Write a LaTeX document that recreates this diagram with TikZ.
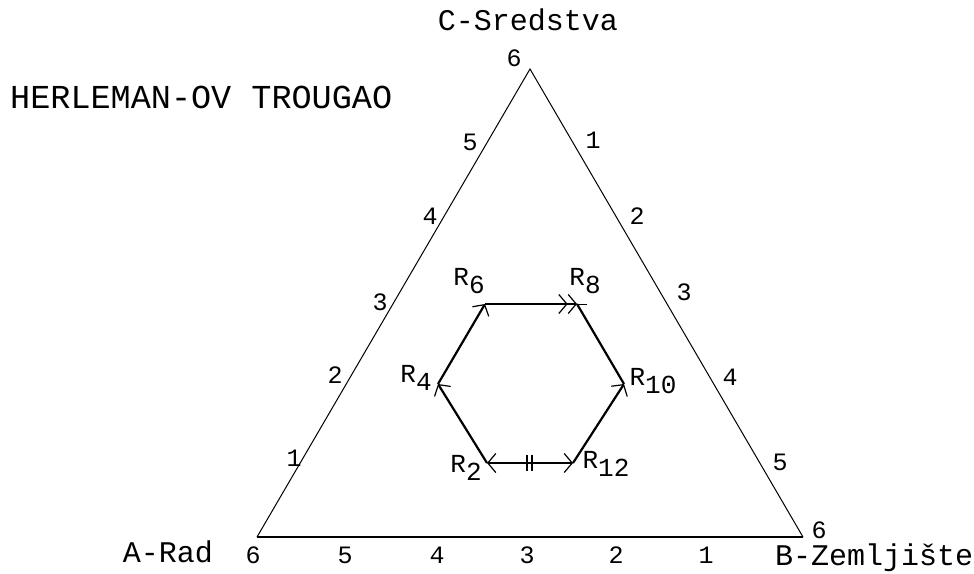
\documentclass[tikz,border=0pt]{standalone}
\usepackage{fontspec}
\setmonofont{Liberation Mono}
\usetikzlibrary{arrows.meta}

\newcommand{\rsub}[2]{#1\raisebox{-8pt}{#2}}

\begin{document}
\begin{tikzpicture}[x=1pt, y=-1pt,
  side/.style={line width=1pt},
  bottomside/.style={line width=2pt},
  route/.style={line width=2.2pt},
  >={Straight Barb[length=8pt, width=19pt, line width=1.2pt]},
  num/.style={font=\fontsize{25}{25}\selectfont\ttfamily, inner sep=0pt},
  axis/.style={font=\fontsize{30}{30}\selectfont\ttfamily, inner sep=0pt},
  rlab/.style={font=\fontsize{26}{26}\selectfont\ttfamily, inner sep=0pt}]

  \fill[white] (0,0) rectangle (974,573);
  \useasboundingbox (0,0) rectangle (974,573);

  %% ---- TITLE ----
  \node[font=\fontsize{33.5}{33.5}\selectfont\ttfamily, inner sep=0pt,
        anchor=base west] (title) at (10,108) {HERLEMAN-OV TROUGAO};

  %% ---- TRIANGLE ----
  \coordinate (A) at (257,537);
  \coordinate (B) at (803,537);
  \coordinate (C) at (530,69);

  \draw[side] (A) -- (C) -- (B);
  \draw[bottomside] (A) -- (B);

  %% corner names
  \node[axis, anchor=base] (sred) at (528,30) {C-Sredstva};
  \node[axis, anchor=base east] (rad) at (213,562) {A-Rad};
  \node[axis, anchor=base west] (zem) at (775,565) {B-Zemljište};

  %% corner numbers
  \node[num] (c6) at (514,58) {6};
  \node[num] (b6) at (819,530) {6};
  \node[num] (a6) at (253,555) {6};

  %% left side scale
  \node[num] (l1) at (294,458) {1};
  \node[num] (l2) at (335,375) {2};
  \node[num] (l3) at (380,302) {3};
  \node[num] (l4) at (430,216) {4};
  \node[num] (l5) at (470,142) {5};

  %% right side scale
  \node[num] (r1) at (593,140) {1};
  \node[num] (r2) at (637,216) {2};
  \node[num] (r3) at (684,292) {3};
  \node[num] (r4) at (730,377) {4};
  \node[num] (r5) at (780,462) {5};

  %% bottom scale
  \node[num] (b5) at (345,555) {5};
  \node[num] (b4) at (437,555) {4};
  \node[num] (b3) at (527,555) {3};
  \node[num] (b2) at (616,555) {2};
  \node[num] (b1) at (706,555) {1};

  %% ---- HEXAGON ----
  \coordinate (R2)  at (487,463);
  \coordinate (R4)  at (438,384);
  \coordinate (R6)  at (485,304);
  \coordinate (R8)  at (577,304);
  \coordinate (R10) at (624,384);
  \coordinate (R12) at (573,463);

  \draw[route, ->] (R2) -- (R4);
  \draw[route, ->] (R4) -- (R6);
  \draw[route, ->>] (R6) -- (R8);
  \draw[side] (R8) -- ++(10,0);
  \draw[route] (R8) -- (R10);
  \draw[route, ->] (R12) -- (R10);
  \draw[route, <->] (R2) -- (R12);

  %% double bar on the bottom edge
  \draw[line width=1.5pt] (527,455) -- (527,471);
  \draw[line width=1.5pt] (532,455) -- (532,471);

  %% labels
  \node[rlab] (lR6)  at (469,281) {\rsub{R}{6}};
  \node[rlab] (lR8)  at (585,281) {\rsub{R}{8}};
  \node[rlab] (lR10) at (653,381) {\rsub{R}{10}};
  \node[rlab] (lR12) at (606,464) {\rsub{R}{12}};
  \node[rlab] (lR2)  at (466,468) {\rsub{R}{2}};
  \node[rlab] (lR4)  at (416,378) {\rsub{R}{4}};

\end{tikzpicture}
\end{document}
